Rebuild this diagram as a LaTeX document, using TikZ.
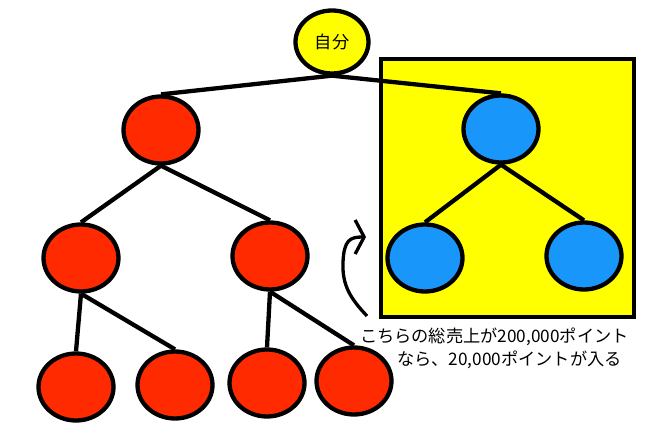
\documentclass[tikz,border=0pt]{standalone}
\usepackage{fontspec}
\newfontfamily\jpfont{Noto Sans CJK JP}
\usepackage{tikz}
\usetikzlibrary{shapes.geometric,arrows.meta}
\definecolor{nodered}{RGB}{255,42,0}
\definecolor{nodeblue}{RGB}{25,150,250}
\definecolor{boxyellow}{RGB}{255,255,0}

\begin{document}
\begin{tikzpicture}[x=1pt, y=-1pt, line width=4.3pt,
  member/.style = {draw, shape = ellipse, inner sep = 0pt, minimum width = 75pt, minimum height = 67pt},
  jptext/.style = {font = \jpfont\fontsize{17.2}{19}\selectfont, inner sep = 0pt}]
\useasboundingbox (0,0) rectangle (659,433);
\draw[fill = boxyellow] (381,59) rectangle (634,317);
% top
\node[member, fill = boxyellow, minimum width = 73pt, minimum height = 63pt, jptext] (me) at (332,42) {自分};
% red side
\node[member, fill = nodered] (r1) at (161,130) {};
\node[member, fill = nodered] (r2) at (81,258) {};
\node[member, fill = nodered] (r3) at (270,256) {};
\node[member, fill = nodered] (r4) at (76,387) {};
\node[member, fill = nodered] (r5) at (175,385) {};
\node[member, fill = nodered] (r6) at (267,383) {};
\node[member, fill = nodered] (r7) at (354,381) {};
% blue side
\node[member, fill = nodeblue] (b1) at (501,129) {};
\node[member, fill = nodeblue] (b2) at (425,258) {};
\node[member, fill = nodeblue] (b3) at (584,256) {};
\draw (me.south) -- (r1.north);
\draw (me.south) -- (b1.north);
\draw (r1.south) -- (r2.north);
\draw (r1.south) -- (r3.north);
\draw (r2.south) -- (r4.north);
\draw (r2.south) -- (r5.north);
\draw (r3.south) -- (r6.north);
\draw (r3.south) -- (r7.north);
\draw (b1.south) -- (b2.north);
\draw (b1.south) -- (b3.north);
% note
\node[jptext, anchor = west] (note1) at (358,337) {こちらの総売上が200,000ポイント};
\node[jptext, anchor = west] (note2) at (395,360) {なら、20,000ポイントが入る};
\coordinate (from) at (367,316);
\coordinate (to) at (366,237);
\draw[line width = 3.3pt, -{Straight Barb[length = 9pt, width = 34pt]}]
  (from) .. controls (350,298) and (342,285) .. (343,262) .. controls (344,240) and (350,237) .. (to);
\end{tikzpicture}
\end{document}
